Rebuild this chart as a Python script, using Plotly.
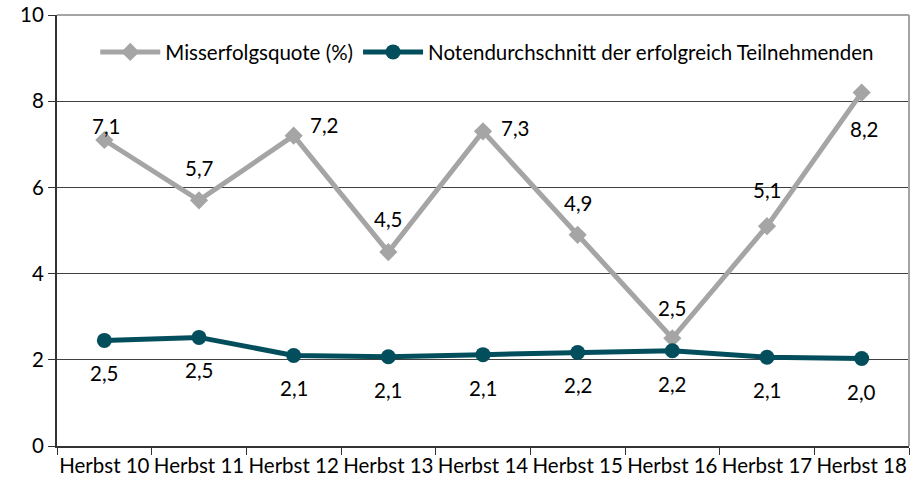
import plotly.graph_objects as go

categories = ["Herbst 10", "Herbst 11", "Herbst 12", "Herbst 13", "Herbst 14",
              "Herbst 15", "Herbst 16", "Herbst 17", "Herbst 18"]
misserfolg = [7.1, 5.7, 7.2, 4.5, 7.3, 4.9, 2.5, 5.1, 8.2]
misserfolg_labels = ["7,1", "5,7", "7,2", "4,5", "7,3", "4,9", "2,5", "5,1", "8,2"]
noten = [2.45, 2.52, 2.10, 2.07, 2.12, 2.17, 2.21, 2.06, 2.03]
noten_labels = ["2,5", "2,5", "2,1", "2,1", "2,1", "2,2", "2,2", "2,1", "2,0"]
y_ticks = [0, 2, 4, 6, 8, 10]

FONT = "Lato"
FSIZE = 20.5
GRAY = "#a5a5a5"
TEAL = "#034e5c"

# label offsets (px) for the gray series
gray_shift = [(2, 14), (0, 32), (30, 11), (0, 33), (32, 3), (0, 32), (0, 30), (0, 36), (2, -36)]

fig = go.Figure()
fig.add_trace(go.Scatter(
    x=categories, y=misserfolg, name="Misserfolgsquote (%)", mode="lines+markers",
    line=dict(color=GRAY, width=5), marker=dict(symbol="diamond", size=14, color=GRAY),
))
fig.add_trace(go.Scatter(
    x=categories, y=noten, name="Notendurchschnitt der erfolgreich Teilnehmenden",
    mode="lines+markers",
    line=dict(color=TEAL, width=5), marker=dict(symbol="circle", size=15, color=TEAL),
))

annotations = []
for c, v, t, (dx, dy) in zip(categories, misserfolg, misserfolg_labels, gray_shift):
    annotations.append(dict(x=c, y=v, text=t, showarrow=False, xshift=dx, yshift=dy,
                            font=dict(family=FONT, size=FSIZE, color="black")))
for c, v, t in zip(categories, noten, noten_labels):
    annotations.append(dict(x=c, y=v, text=t, showarrow=False, yshift=-33,
                            font=dict(family=FONT, size=FSIZE, color="black")))

fig.update_layout(
    width=914, height=488,
    margin=dict(l=57, r=5, t=15, b=42),
    paper_bgcolor="white", plot_bgcolor="white",
    font=dict(family=FONT, size=FSIZE, color="black"),
    showlegend=True,
    legend=dict(orientation="h", x=0.505, xanchor="center", y=0.914, yanchor="middle",
                bgcolor="rgba(0,0,0,0)", font=dict(size=FSIZE), itemwidth=60,
                tracegroupgap=0),
    annotations=annotations,
    xaxis=dict(
        type="category", showgrid=False, showline=True, linecolor="#333333", linewidth=2,
        ticks="outside", tickson="boundaries", ticklen=7, tickcolor="#333333",
        tickfont=dict(family=FONT, size=FSIZE), range=[-0.5, 8.5],
        tickangle=0, automargin=False,
    ),
    yaxis=dict(
        range=[0, 10], tickvals=y_ticks, showgrid=True, gridcolor="#404040", gridwidth=1,
        showline=True, linecolor="#333333", linewidth=2, ticks="outside", ticklen=7,
        tickcolor="#333333", tickfont=dict(family=FONT, size=FSIZE), zeroline=False,
        automargin=False,
    ),
    shapes=[
        dict(type="line", xref="paper", yref="paper", x0=0, x1=1, y0=1, y1=1,
             line=dict(color=GRAY, width=2), layer="above"),
        dict(type="line", xref="paper", yref="paper", x0=1, x1=1, y0=0, y1=1,
             line=dict(color=GRAY, width=2), layer="above"),
    ],
)

# page body has a default margin; drop it so the figure fills the window
fig.write_html("out.html", config=dict(displayModeBar=False),
               post_script="document.body.style.margin='0';")
